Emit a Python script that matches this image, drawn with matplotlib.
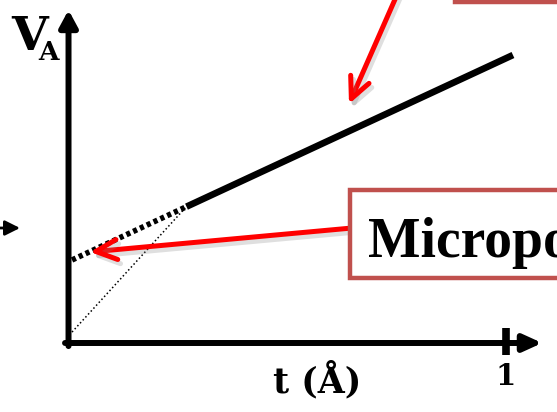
import matplotlib
matplotlib.use("Agg")
import matplotlib.pyplot as plt
import matplotlib.patheffects as pe
from matplotlib.patches import Rectangle

W, H = 557, 412

# potential vs. thickness
t_initial = [0.008, 0.267]
v_initial = [0.025, 0.309]
t_early = [0.008, 0.27]
v_early = [0.190, 0.312]
t_linear = [0.27, 1.017]
v_linear = [0.312, 0.659]
x_ticks = [1]
x_tick_labels = ["1"]

RED = "#FF0000"
BOX = "#C0504D"
AXIS_FONT = "DejaVu Serif"
BOX_FONT = "Liberation Serif"


def fx(x):
    return x / W


def fy(y):
    return 1 - y / H


fig = plt.figure(figsize=(W / 100, H / 100), dpi=100)
ax = fig.add_axes([0, 0, 1, 1])
ax.set_xlim(-0.1568, 1.1178)
ax.set_ylim(-0.1579, 0.7849)
ax.axis("off")

# axes with arrow heads
ax.annotate("", xy=(0, 0.762), xytext=(0, -0.007),
            arrowprops=dict(arrowstyle="-|>,head_length=0.5,head_width=0.27",
                            lw=4.3, color="black", shrinkA=0, shrinkB=0,
                            mutation_scale=20))
ax.annotate("", xy=(1.084, 0), xytext=(-0.008, 0),
            arrowprops=dict(arrowstyle="-|>,head_length=0.55,head_width=0.25",
                            lw=4.3, color="black", shrinkA=0, shrinkB=0,
                            mutation_scale=20))
ax.vlines(x_ticks, -0.027, 0.034, color="black", lw=5.5)
for xt, lab in zip(x_ticks, x_tick_labels):
    ax.text(xt, -0.0957, lab, ha="center", va="baseline", fontsize=21,
            family=AXIS_FONT, weight="bold")

# curves
ax.plot(t_initial, v_initial, color="black", lw=1.1,
        linestyle=(0, (1, 1.6)), zorder=2)
ax.plot(t_early, v_early, color="black", lw=4.0,
        linestyle=(0, (0.75, 0.6)), dash_capstyle="butt", zorder=2)
ax.plot(t_linear, v_linear, color="black", lw=4.8,
        solid_capstyle="butt", zorder=2)

# axis labels
ax.text(fx(29.5), fy(50), "V", transform=fig.transFigure, ha="center",
        va="baseline", fontsize=34, family=AXIS_FONT, weight="bold")
ax.text(fx(48.5), fy(60), "A", transform=fig.transFigure, ha="center",
        va="baseline", fontsize=19, family=AXIS_FONT, weight="bold")
ax.text(fx(273), fy(392), "t (Å)", transform=fig.transFigure, ha="left",
        va="baseline", fontsize=25, family=AXIS_FONT, weight="bold")

# small arrow on the left edge
ax.annotate("", xy=(fx(20), fy(228)), xytext=(fx(-5), fy(228)),
            xycoords="figure fraction", textcoords="figure fraction",
            arrowprops=dict(arrowstyle="-|>,head_length=0.6,head_width=0.3",
                            lw=2, color="black", shrinkA=0, shrinkB=0,
                            mutation_scale=15))

# callouts
shadow = [pe.SimpleLineShadow(offset=(2, -3), shadow_color="gray", alpha=0.25),
          pe.Normal()]
ax.annotate("", xy=(fx(349), fy(104)), xytext=(fx(400), fy(-12)),
            xycoords="figure fraction", textcoords="figure fraction",
            arrowprops=dict(arrowstyle="->,head_length=0.95,head_width=0.45",
                            lw=3.6, color=RED, shrinkA=0, shrinkB=0,
                            mutation_scale=16, path_effects=shadow),
            zorder=3)
ax.annotate("", xy=(fx(90), fy(252)), xytext=(fx(352), fy(228)),
            xycoords="figure fraction", textcoords="figure fraction",
            arrowprops=dict(arrowstyle="->,head_length=0.95,head_width=0.45",
                            lw=3.6, color=RED, shrinkA=0, shrinkB=0,
                            mutation_scale=16, path_effects=shadow),
            zorder=3)

ax.add_patch(Rectangle((fx(455), fy(2)), fx(700) - fx(455), fy(-60) - fy(2),
                       transform=fig.transFigure, clip_on=False,
                       facecolor="white", edgecolor=BOX, lw=3.2, zorder=4))
ax.add_patch(Rectangle((fx(350), fy(278)), fx(700) - fx(350), fy(190.5) - fy(278),
                       transform=fig.transFigure, clip_on=False,
                       facecolor="white", edgecolor=BOX, lw=3.2, zorder=4))
ax.text(fx(368), fy(257), "Micropores", transform=fig.transFigure, ha="left",
        va="baseline", fontsize=40, family=BOX_FONT, weight="bold", zorder=5)

fig.savefig("out.png", dpi=100)
